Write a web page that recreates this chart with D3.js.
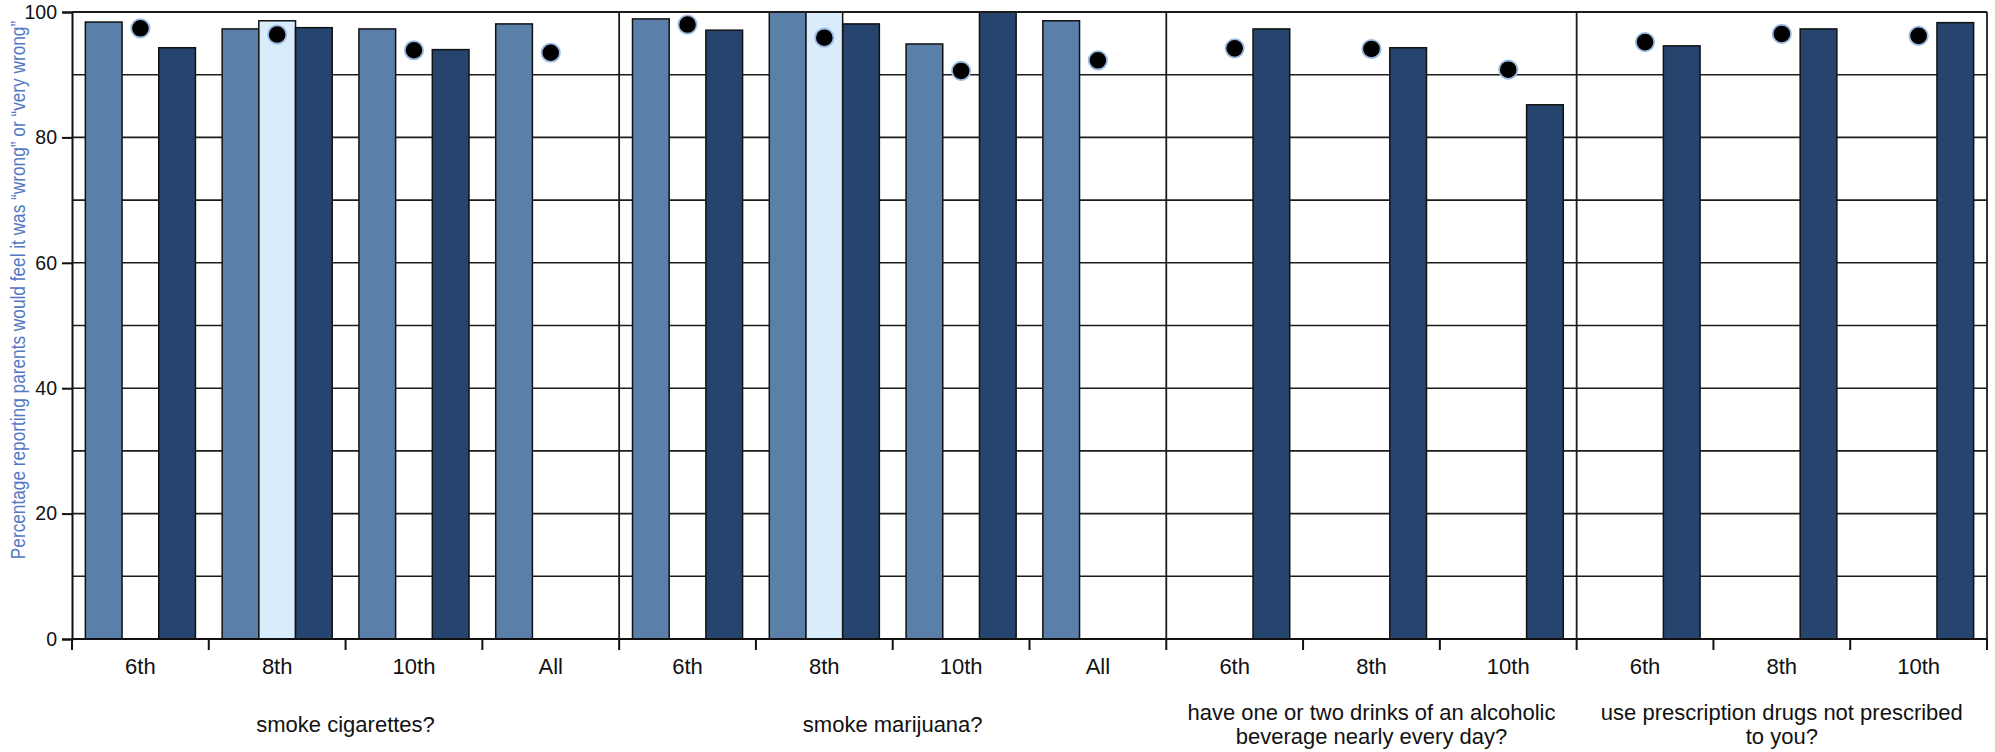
<!DOCTYPE html>
<html>
<head>
<meta charset="utf-8">
<script src="https://cdn.jsdelivr.net/npm/d3@7/dist/d3.min.js"></script>
<style>
  html, body { margin: 0; padding: 0; background: #ffffff; }
  svg { display: block; }
</style>
</head>
<body>
<svg id="chart" width="1995" height="752"></svg>
<script>
// ---------- DATA ----------
const groups = [
  { label: ["smoke cigarettes?"], n: 4 },
  { label: ["smoke marijuana?"], n: 4 },
  { label: ["have one or two drinks of an alcoholic", "beverage nearly every day?"], n: 3 },
  { label: ["use prescription drugs not prescribed", "to you?"], n: 3 }
];
const gradeLabels = ["6th", "8th", "10th", "All", "6th", "8th", "10th", "All", "6th", "8th", "10th", "6th", "8th", "10th"];
// series A (steel blue bars)
const seriesA = [98.4, 97.3, 97.3, 98.1, 98.9, 100, 94.9, 98.6, null, null, null, null, null, null];
// series B (pale blue bars)
const seriesB = [null, 98.6, null, null, null, 100, null, null, null, null, null, null, null, null];
// series C (navy bars)
const seriesC = [94.3, 97.5, 94.0, null, 97.1, 98.1, 100, null, 97.3, 94.3, 85.2, 94.6, 97.3, 98.3];
// comparison points (black dots)
const dots = [97.4, 96.4, 93.9, 93.5, 98.0, 95.9, 90.6, 92.3, 94.2, 94.1, 90.8, 95.2, 96.5, 96.2];
const yMajorTicks = [0, 20, 40, 60, 80, 100];
const yMinorTicks = [10, 30, 50, 70, 90];
const yTitle = "Percentage reporting parents would feel it was \u201Cwrong\u201D or \u201Cvery wrong\u201D";

(function () {
// ---------- LAYOUT ----------
const mLeft = 72, mRight = 1987, mTop = 12, mBottom = 639;
const font = "'Liberation Sans', Arial, Helvetica, sans-serif";
const colA = "#5a7fa9", colB = "#d9ecfb", colC = "#25446e";

const svg = d3.select("#chart");
const idx = d3.range(gradeLabels.length);

const x = d3.scaleBand().domain(idx).range([mLeft, mRight]).padding(0);
const inner = d3.scaleBand().domain(["A", "B", "C"]).range([0, x.bandwidth()])
  .paddingInner(0).paddingOuter(0.364);
const y = d3.scaleLinear().domain([0, 100]).range([mBottom, mTop]);

// gridlines
const gridColor = "#1c1c1c";
svg.append("g").selectAll("line")
  .data(yMinorTicks.concat(yMajorTicks.filter(v => v > 0 && v < 100)))
  .join("line")
  .attr("x1", mLeft).attr("x2", mRight)
  .attr("y1", d => y(d)).attr("y2", d => y(d))
  .attr("stroke", gridColor).attr("stroke-width", 1.6);

// bars
const seriesDefs = [
  { key: "A", vals: seriesA, color: colA },
  { key: "B", vals: seriesB, color: colB },
  { key: "C", vals: seriesC, color: colC }
];
const barG = svg.append("g");
seriesDefs.forEach(s => {
  barG.append("g").selectAll("rect")
    .data(idx.filter(i => s.vals[i] != null))
    .join("rect")
    .attr("x", i => x(i) + inner(s.key))
    .attr("width", inner.bandwidth())
    .attr("y", i => y(s.vals[i]))
    .attr("height", i => y(0) - y(s.vals[i]))
    .attr("fill", s.color)
    .attr("stroke", "#111")
    .attr("stroke-width", 1.5);
});

// dots
svg.append("g").selectAll("circle")
  .data(idx.filter(i => dots[i] != null))
  .join("circle")
  .attr("cx", i => x(i) + inner("B") + inner.bandwidth() / 2)
  .attr("cy", i => y(dots[i]))
  .attr("r", 9.2)
  .attr("fill", "#000")
  .attr("stroke", "#9bbbe3")
  .attr("stroke-width", 1.8);

// frame: top border, right border, group separators
svg.append("line").attr("x1", mLeft).attr("x2", mRight).attr("y1", y(100)).attr("y2", y(100))
  .attr("stroke", gridColor).attr("stroke-width", 1.8);
let acc = 0;
const sepIdx = [];
groups.forEach(g => { acc += g.n; sepIdx.push(acc); });
svg.append("g").selectAll("line")
  .data(sepIdx)
  .join("line")
  .attr("x1", d => d < idx.length ? x(d) : mRight)
  .attr("x2", d => d < idx.length ? x(d) : mRight)
  .attr("y1", y(100)).attr("y2", y(0))
  .attr("stroke", gridColor).attr("stroke-width", 1.8);

// y axis
const yAxis = d3.axisLeft(y).tickValues(yMajorTicks).tickSize(10).tickPadding(5).tickFormat(d3.format("d"));
const ya = svg.append("g").attr("transform", `translate(${mLeft},0)`).call(yAxis);
ya.select(".domain").attr("stroke", "#111").attr("stroke-width", 2);
ya.selectAll(".tick line").attr("stroke", "#111").attr("stroke-width", 2);
ya.selectAll(".tick text").attr("font-family", font).attr("font-size", 19.5).attr("fill", "#111");

// x axis baseline and ticks
svg.append("line").attr("x1", mLeft).attr("x2", mRight).attr("y1", y(0)).attr("y2", y(0))
  .attr("stroke", "#111").attr("stroke-width", 2);
const bounds = idx.map(i => x(i)).concat([mRight]);
svg.append("g").selectAll("line")
  .data(bounds)
  .join("line")
  .attr("x1", d => d).attr("x2", d => d)
  .attr("y1", y(0)).attr("y2", y(0) + 11)
  .attr("stroke", "#111").attr("stroke-width", 2);

// grade labels
svg.append("g").selectAll("text")
  .data(idx)
  .join("text")
  .attr("x", i => x(i) + x.bandwidth() / 2)
  .attr("y", 674)
  .attr("text-anchor", "middle")
  .attr("font-family", font).attr("font-size", 22).attr("fill", "#111")
  .text(i => gradeLabels[i]);

// group labels
let start = 0;
groups.forEach(g => {
  const cx = (x(start) + (start + g.n < idx.length ? x(start + g.n) : mRight)) / 2;
  const lineH = 23.5;
  const centerBase = 732;
  const firstBase = centerBase - (g.label.length - 1) * lineH / 2;
  const t = svg.append("text")
    .attr("text-anchor", "middle")
    .attr("font-family", font).attr("font-size", 22).attr("fill", "#111");
  g.label.forEach((ln, k) => {
    t.append("tspan").attr("x", cx).attr("y", firstBase + k * lineH).text(ln);
  });
  start += g.n;
});

// y title (condensed look: shrink font to fit length, then stretch glyph height)
const targetLen = 539, baseSize = 20;
const yt = svg.append("text")
  .attr("text-anchor", "middle")
  .attr("font-family", font)
  .attr("font-size", baseSize)
  .attr("fill", "#5377c2")
  .text(yTitle);
const natural = yt.node().getComputedTextLength() || targetLen;
const fs = Math.min(baseSize, baseSize * targetLen / natural);
yt.attr("font-size", fs)
  .attr("transform", `translate(25,290) rotate(-90) scale(1,${baseSize / fs})`);
})();
</script>
</body>
</html>
